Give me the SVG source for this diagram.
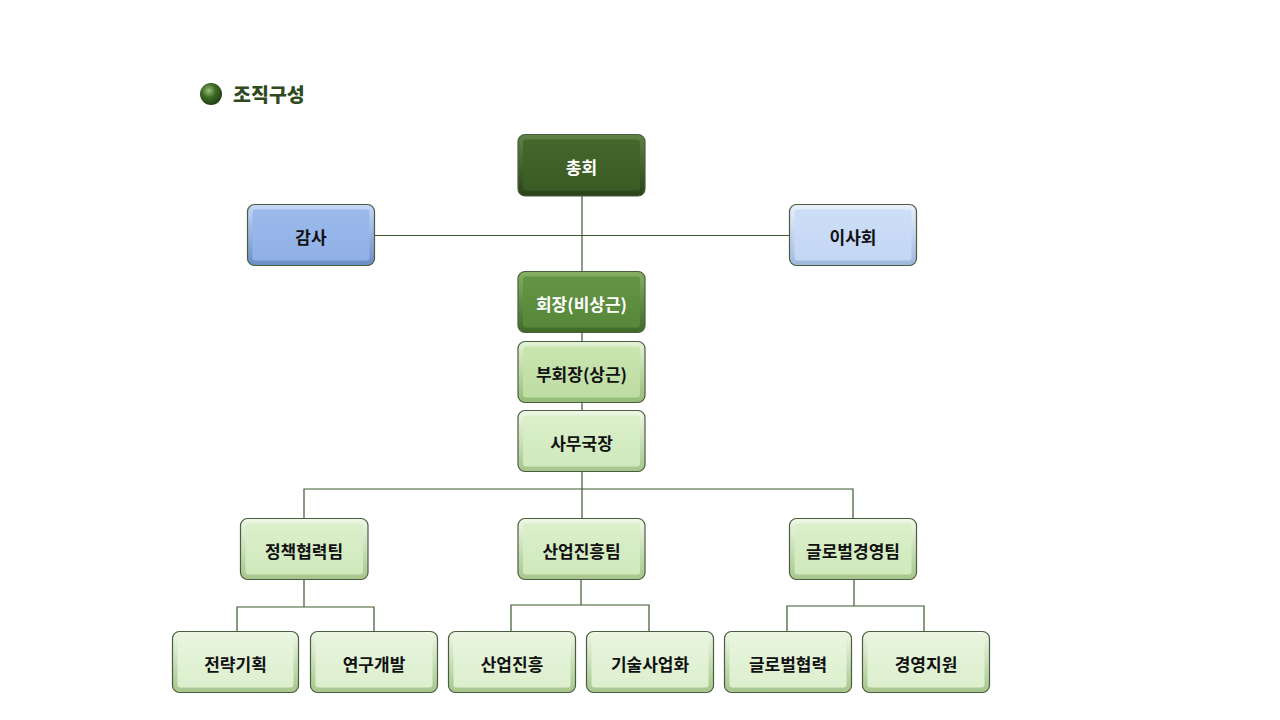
<svg xmlns="http://www.w3.org/2000/svg" width="1280" height="720" viewBox="0 0 1280 720">
<defs>
<style>
.t{font-family:"Noto Sans CJK KR","Noto Sans",sans-serif;font-weight:bold;font-size:17px;text-anchor:middle;dominant-baseline:central}
.w{fill:#ffffff}
.k{fill:#111111}
.ln{stroke:#3d5a2a;stroke-width:1.2;fill:none}
.o{stroke:#4b5d40;stroke-width:1.2}
</style>
<radialGradient id="ball" cx="0.4" cy="0.35" r="0.7">
<stop offset="0" stop-color="#9cc07a"/>
<stop offset="0.45" stop-color="#3e6a25"/>
<stop offset="1" stop-color="#1f3a12"/>
</radialGradient>
<linearGradient id="eDark" x1="0" y1="0" x2="0" y2="1"><stop offset="0" stop-color="#5e8245"/><stop offset="1" stop-color="#2a4219"/></linearGradient>
<linearGradient id="fDark" x1="0" y1="0" x2="0" y2="1"><stop offset="0" stop-color="#44672c"/><stop offset="1" stop-color="#3a5b24"/></linearGradient>
<linearGradient id="eMid" x1="0" y1="0" x2="0" y2="1"><stop offset="0" stop-color="#86b064"/><stop offset="1" stop-color="#3e6a26"/></linearGradient>
<linearGradient id="fMid" x1="0" y1="0" x2="0" y2="1"><stop offset="0" stop-color="#649544"/><stop offset="1" stop-color="#57873a"/></linearGradient>
<linearGradient id="eL1" x1="0" y1="0" x2="0" y2="1"><stop offset="0" stop-color="#e4f3d6"/><stop offset="1" stop-color="#94bb76"/></linearGradient>
<linearGradient id="fL1" x1="0" y1="0" x2="0" y2="1"><stop offset="0" stop-color="#c9e5b0"/><stop offset="1" stop-color="#bddca2"/></linearGradient>
<linearGradient id="eL2" x1="0" y1="0" x2="0" y2="1"><stop offset="0" stop-color="#eef8e6"/><stop offset="1" stop-color="#a6c68c"/></linearGradient>
<linearGradient id="fL2" x1="0" y1="0" x2="0" y2="1"><stop offset="0" stop-color="#dbefcb"/><stop offset="1" stop-color="#d0e9bc"/></linearGradient>
<linearGradient id="fL3" x1="0" y1="0" x2="0" y2="1"><stop offset="0" stop-color="#e8f5de"/><stop offset="1" stop-color="#dcefcd"/></linearGradient>
<linearGradient id="eB1" x1="0" y1="0" x2="0" y2="1"><stop offset="0" stop-color="#c6d8f6"/><stop offset="1" stop-color="#6a8cc6"/></linearGradient>
<linearGradient id="fB1" x1="0" y1="0" x2="0" y2="1"><stop offset="0" stop-color="#9cbaeb"/><stop offset="1" stop-color="#90b0e6"/></linearGradient>
<linearGradient id="eB2" x1="0" y1="0" x2="0" y2="1"><stop offset="0" stop-color="#eaf1fc"/><stop offset="1" stop-color="#9fb7de"/></linearGradient>
<linearGradient id="fB2" x1="0" y1="0" x2="0" y2="1"><stop offset="0" stop-color="#cddef7"/><stop offset="1" stop-color="#c3d6f3"/></linearGradient>
</defs>
<rect width="1280" height="720" fill="#ffffff"/>

<g id="title">
<circle cx="211" cy="94" r="11" fill="url(#ball)"/>
<text x="233" y="93" font-family="'Noto Sans CJK KR',sans-serif" font-weight="900" font-size="19.5" fill="#2f4a1e" dominant-baseline="central">조직구성</text>
</g>

<g id="connectors">
<line class="ln" x1="582" y1="196" x2="582" y2="489"/>
<line class="ln" x1="374" y1="235.5" x2="789" y2="235.5"/>
<polyline class="ln" points="304,518 304,489 853,489 853,518"/>
<line class="ln" x1="582" y1="489" x2="582" y2="518"/>
<line class="ln" x1="304" y1="579" x2="304" y2="607"/>
<polyline class="ln" points="237,632 237,607 374,607 374,632"/>
<line class="ln" x1="581" y1="579" x2="581" y2="605"/>
<polyline class="ln" points="511,632 511,605 649,605 649,632"/>
<line class="ln" x1="854" y1="579" x2="854" y2="606"/>
<polyline class="ln" points="787,632 787,606 924,606 924,632"/>
</g>

<g id="n-chonghoe">
<rect class="o" x="518" y="134.5" width="127" height="61.5" rx="7" fill="url(#eDark)"/>
<rect x="523" y="139.5" width="117" height="51" rx="3" fill="url(#fDark)"/>
<text class="t w" x="581.5" y="166">총회</text>
</g>
<g id="n-gamsa">
<rect class="o" x="247.5" y="204.5" width="127" height="61" rx="7" fill="url(#eB1)"/>
<rect x="252.5" y="209.5" width="117" height="51" rx="3" fill="url(#fB1)"/>
<text class="t k" x="311" y="236">감사</text>
</g>
<g id="n-isahoe">
<rect class="o" x="789.5" y="204.5" width="127" height="61" rx="7" fill="url(#eB2)"/>
<rect x="794.5" y="209.5" width="117" height="51" rx="3" fill="url(#fB2)"/>
<text class="t k" x="853" y="236">이사회</text>
</g>
<g id="n-hoejang">
<rect class="o" x="518" y="271.5" width="127" height="61" rx="7" fill="url(#eMid)"/>
<rect x="523" y="276.5" width="117" height="51" rx="3" fill="url(#fMid)"/>
<text class="t w" x="581.5" y="303">회장(비상근)</text>
</g>
<g id="n-buhoejang">
<rect class="o" x="518" y="341.5" width="127" height="61" rx="7" fill="url(#eL1)"/>
<rect x="523" y="346.5" width="117" height="51" rx="3" fill="url(#fL1)"/>
<text class="t k" x="581.5" y="373">부회장(상근)</text>
</g>
<g id="n-samuguk">
<rect class="o" x="518" y="410.5" width="127" height="61" rx="7" fill="url(#eL2)"/>
<rect x="523" y="415.5" width="117" height="51" rx="3" fill="url(#fL2)"/>
<text class="t k" x="581.5" y="442">사무국장</text>
</g>
<g id="n-jeongchaek">
<rect class="o" x="240.5" y="518.5" width="127.5" height="61" rx="7" fill="url(#eL2)"/>
<rect x="245.5" y="523.5" width="117.5" height="51" rx="3" fill="url(#fL2)"/>
<text class="t k" x="304" y="550">정책협력팀</text>
</g>
<g id="n-saneopteam">
<rect class="o" x="518" y="518.5" width="127" height="61" rx="7" fill="url(#eL2)"/>
<rect x="523" y="523.5" width="117" height="51" rx="3" fill="url(#fL2)"/>
<text class="t k" x="581.5" y="550">산업진흥팀</text>
</g>
<g id="n-globalteam">
<rect class="o" x="789.5" y="518.5" width="127" height="61" rx="7" fill="url(#eL2)"/>
<rect x="794.5" y="523.5" width="117" height="51" rx="3" fill="url(#fL2)"/>
<text class="t k" x="853" y="550">글로벌경영팀</text>
</g>
<g id="n-jeonryak">
<rect class="o" x="172.5" y="631.5" width="126" height="61" rx="7" fill="url(#eL2)"/>
<rect x="177.5" y="636.5" width="116" height="51" rx="3" fill="url(#fL3)"/>
<text class="t k" x="235.5" y="663">전략기획</text>
</g>
<g id="n-yeongu">
<rect class="o" x="310.5" y="631.5" width="127" height="61" rx="7" fill="url(#eL2)"/>
<rect x="315.5" y="636.5" width="117" height="51" rx="3" fill="url(#fL3)"/>
<text class="t k" x="374" y="663">연구개발</text>
</g>
<g id="n-saneop">
<rect class="o" x="448.5" y="631.5" width="127" height="61" rx="7" fill="url(#eL2)"/>
<rect x="453.5" y="636.5" width="117" height="51" rx="3" fill="url(#fL3)"/>
<text class="t k" x="512" y="663">산업진흥</text>
</g>
<g id="n-gisul">
<rect class="o" x="586.5" y="631.5" width="127" height="61" rx="7" fill="url(#eL2)"/>
<rect x="591.5" y="636.5" width="117" height="51" rx="3" fill="url(#fL3)"/>
<text class="t k" x="650" y="663">기술사업화</text>
</g>
<g id="n-global">
<rect class="o" x="724.5" y="631.5" width="127" height="61" rx="7" fill="url(#eL2)"/>
<rect x="729.5" y="636.5" width="117" height="51" rx="3" fill="url(#fL3)"/>
<text class="t k" x="788" y="663">글로벌협력</text>
</g>
<g id="n-gyeongyeong">
<rect class="o" x="862.5" y="631.5" width="127" height="61" rx="7" fill="url(#eL2)"/>
<rect x="867.5" y="636.5" width="117" height="51" rx="3" fill="url(#fL3)"/>
<text class="t k" x="926" y="663">경영지원</text>
</g>
</svg>
